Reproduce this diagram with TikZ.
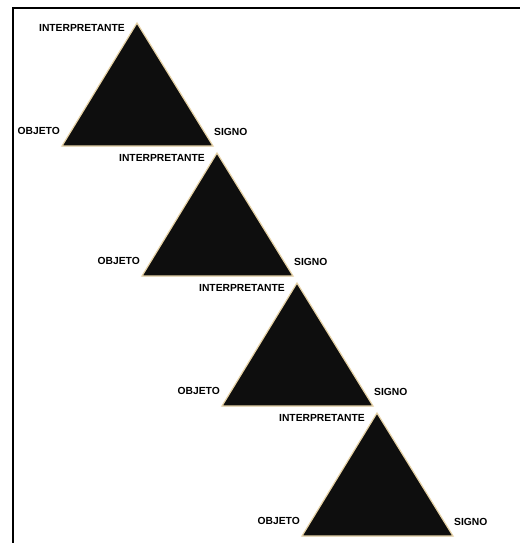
\documentclass[tikz,border=0pt]{standalone}
\usepackage{fontspec}
\setmainfont{Liberation Sans}
\definecolor{tri}{HTML}{0E0E0E}
\definecolor{rim}{HTML}{E6D2A6}
\begin{document}
\begin{tikzpicture}[x=1pt,y=-1pt,
  lab/.style={font=\bfseries\fontsize{10.3}{11}\selectfont, inner sep=0pt},
  trifill/.style={fill=tri, draw=rim, line width=1.2pt, line join=miter}]
\useasboundingbox (0,0) rectangle (519,543);
\fill[white] (0,0) rectangle (519,543);
\draw[line width=2.6pt] (13,545) -- (13,8) -- (521,8);
\foreach \i in {0,1,2,3}{
  \coordinate (apex\i) at ({137+80*\i},{23+130*\i});
  \coordinate (bl\i) at ({62+80*\i},{146+130*\i});
  \coordinate (br\i) at ({213+80*\i},{146+130*\i});
  \fill[trifill] (apex\i) -- (bl\i) -- (br\i) -- cycle;
  \node[lab, anchor=east] (int\i) at ({125+80*\i},{28+130*\i}) {INTERPRETANTE};
  \node[lab, anchor=east] (obj\i) at ({60+80*\i},{131+130*\i}) {OBJETO};
  \node[lab, anchor=west] (sig\i) at ({214+80*\i},{132+130*\i}) {SIGNO};
}
\end{tikzpicture}
\end{document}
